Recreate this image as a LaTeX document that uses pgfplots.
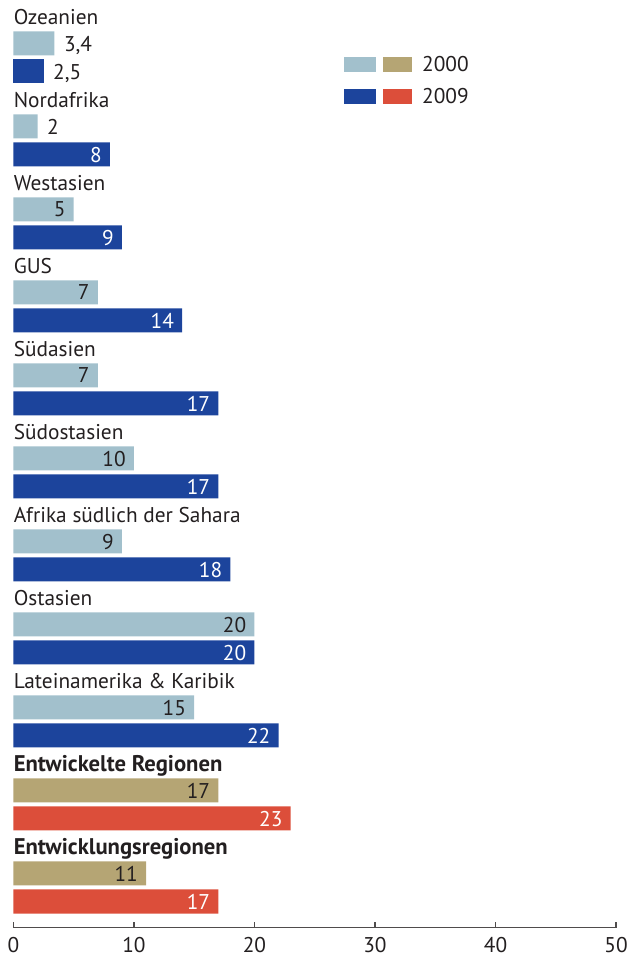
\documentclass[border=0pt]{standalone}
\usepackage{pgfplots}
\pgfplotsset{compat=1.18}
\usepackage{fontspec}
\setmainfont{PT Sans}
\definecolor{lb}{HTML}{A2C0CC}
\definecolor{db}{HTML}{1C449C}
\definecolor{tn}{HTML}{B5A574}
\definecolor{rd}{HTML}{DC4E3A}
\definecolor{tx}{HTML}{231F20}
\begin{document}
\begin{tikzpicture}[font=\fontsize{16}{19}\selectfont, text=tx]
\begin{axis}[
 x=9.0375pt, y=0.75pt,
 xmin=0, xmax=50, ymin=42.3, ymax=970,
 axis x line*=bottom, axis y line=none,
 xtick={0,10,20,30,40,50},
 tick align=inside, major tick length=4.5pt,
 every tick/.style={tx!80, line width=0.8pt},
 axis line style={tx!80, line width=0.8pt},
 xticklabel style={anchor=north, yshift=-7pt, inner sep=0pt},
 /pgf/number format/assume math mode=true,
 /pgf/number format/use comma,
 clip=false,
 legend style={at={(axis description cs:0.5486,0.9396)}, anchor=north west,
   draw=none, fill=none, inner sep=0pt, outer sep=0pt, row sep=11pt,
   nodes={inner sep=0pt, text=tx},
   /tikz/every odd column/.append style={column sep=8pt}},
 legend cell align=left,
 insidelab/.style={nodes near coords, point meta=x,
   nodes near coords style={anchor=east, xshift=-6pt, inner sep=0pt, text depth=0pt, text=#1}},
 outsidelab/.style={nodes near coords, point meta=x,
   nodes near coords style={anchor=west, xshift=7pt, inner sep=0pt, text depth=0pt, text=tx}},
]
% 2000, regions (light blue), label inside
\addplot[xbar, bar width=24, fill=lb, draw=none, forget plot, insidelab=tx]
  coordinates {(5,760.5) (7,677.5) (7,594.5) (10,511.5) (9,428.5) (20,345.5) (15,262.5)};
% 2000, regions, label outside
\addplot[xbar, bar width=24, fill=lb, draw=none, forget plot, outsidelab]
  coordinates {(3.4,926.5) (2,843.5)};
% 2009, regions (dark blue), label inside
\addplot[xbar, bar width=24, fill=db, draw=none, forget plot, insidelab=white]
  coordinates {(8,815.5) (9,732.5) (14,649.5) (17,566.5) (17,483.5) (18,400.5) (20,317.5) (22,234.5)};
% 2009, regions, label outside
\addplot[xbar, bar width=24, fill=db, draw=none, forget plot, outsidelab]
  coordinates {(2.5,898.5)};
% 2000, aggregates (tan)
\addplot[xbar, bar width=24, fill=tn, draw=none, forget plot, insidelab=tx]
  coordinates {(17,179.5) (11,96.5)};
% 2009, aggregates (red)
\addplot[xbar, bar width=24, fill=rd, draw=none, forget plot, insidelab=white]
  coordinates {(23,151.5) (17,68.5)};

\node[anchor=base west, inner sep=0pt] at (axis cs:0,945) {Ozeanien};
\node[anchor=base west, inner sep=0pt] at (axis cs:0,862) {Nordafrika};
\node[anchor=base west, inner sep=0pt] at (axis cs:0,779) {Westasien};
\node[anchor=base west, inner sep=0pt] at (axis cs:0,696) {GUS};
\node[anchor=base west, inner sep=0pt] at (axis cs:0,613) {Südasien};
\node[anchor=base west, inner sep=0pt] at (axis cs:0,530) {Südostasien};
\node[anchor=base west, inner sep=0pt] at (axis cs:0,447) {Afrika südlich der Sahara};
\node[anchor=base west, inner sep=0pt] at (axis cs:0,364) {Ostasien};
\node[anchor=base west, inner sep=0pt] at (axis cs:0,281) {Lateinamerika \& Karibik};
\node[anchor=base west, inner sep=0pt, font=\fontsize{17}{19}\selectfont\bfseries] at (axis cs:0,198) {Entwickelte Regionen};
\node[anchor=base west, inner sep=0pt, font=\fontsize{17}{19}\selectfont\bfseries] at (axis cs:0,115) {Entwicklungsregionen};

\path (axis cs:-1.12,0) rectangle (axis cs:51.24,970);

\addlegendimage{legend image code/.code={\fill[lb] (0pt,-5.25pt) rectangle (23.25pt,5.25pt); \fill[tn] (29.25pt,-5.25pt) rectangle (50.25pt,5.25pt);}}
\addlegendentry{2000}
\addlegendimage{legend image code/.code={\fill[db] (0pt,-5.25pt) rectangle (23.25pt,5.25pt); \fill[rd] (29.25pt,-5.25pt) rectangle (50.25pt,5.25pt);}}
\addlegendentry{2009}
\end{axis}
\end{tikzpicture}
\end{document}
